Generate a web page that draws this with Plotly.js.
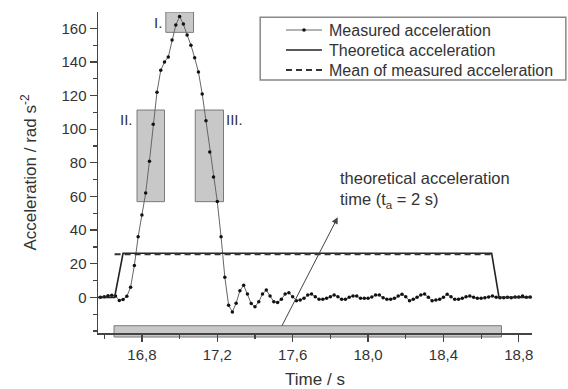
<!DOCTYPE html>
<html>
<head>
<meta charset="utf-8">
<script src="https://cdn.plot.ly/plotly-3.0.1.min.js"></script>
<style>html,body{margin:0;padding:0;background:#fff;}#chart{width:568px;height:389px;}</style>
</head>
<body>
<div id="chart"></div>
<script>
// Measured acceleration samples (time in s, acceleration in rad s^-2)
var measuredTime = [16.58,16.60,16.62,16.64,16.66,16.68,16.70,16.72,16.74,16.76,16.78,16.80,16.82,16.84,16.86,16.88,16.90,16.92,16.94,16.96,16.98,17.00,17.02,17.04,17.06,17.08,17.10,17.12,17.14,17.16,17.18,17.20,17.22,17.24,17.26,17.28,17.30,17.32,17.34,17.36,17.38,17.40,17.42,17.44,17.46,17.48,17.50,17.52,17.54,17.56,17.58,17.60,17.62,17.64,17.66,17.68,17.70,17.72,17.74,17.76,17.78,17.80,17.82,17.84,17.86,17.88,17.90,17.92,17.94,17.96,17.98,18.00,18.02,18.04,18.06,18.08,18.10,18.12,18.14,18.16,18.18,18.20,18.22,18.24,18.26,18.28,18.30,18.32,18.34,18.36,18.38,18.40,18.42,18.44,18.46,18.48,18.50,18.52,18.54,18.56,18.58,18.60,18.62,18.64,18.66,18.68,18.70,18.72,18.74,18.76,18.78,18.80,18.82,18.84,18.86];
var measuredAcc = [0,0.3,1.0,1.2,0.8,-1.8,-1.3,0.6,6,19,36,49,62,81,103,122,135,140,143,153,162,167,162.5,156,150,142.5,134,121,105,86.5,71.5,57,36,12,-4.7,-8.7,-3.5,4,7.2,2,-3.7,-5.6,-2.6,2,4.3,0.8,-2.6,-3,-1.2,2,2.8,0.4,-2,-1.6,-0.6,1.4,2,0.4,-1.2,-1.2,-0.6,0.4,1.4,0.4,-1.2,-1.2,0,0.8,0.8,-0.6,-0.6,-0.6,0.2,1.4,1.4,-0.2,-1.2,-1.2,-0.6,0.8,1.8,0.4,-2,-1.2,0,1.4,2,0,-2,-1.6,-1.2,0,1.8,0.4,-1.2,-1.2,-0.6,0.4,0.8,0,-0.6,-0.6,-0.2,0.2,0.8,0,-0.2,-0.2,0,-0.2,0.2,0.2,0.8,0,0.2];

// Theoretical acceleration (trapezoid)
var theoTime = [16.567,16.655,16.700,18.656,18.695,18.870];
var theoAcc  = [0,0,26.2,26.2,0,0];

// Mean of measured acceleration
var meanTime = [16.655,18.656];
var meanAcc  = [25.6,25.6];

// Highlighted regions and labels
var regionLabels = ["I.","II.","III."];
var regionX0 = [16.927,16.774,17.083];
var regionX1 = [17.074,16.920,17.233];
var regionY0 = [157.6,56.9,56.9];
var regionY1 = [169.7,111.4,111.4];

// Theoretical acceleration time bar
var barT0 = 16.652, barT1 = 18.708;

// Legend entries and tick values
var seriesNames = ['Measured acceleration', 'Theoretica acceleration', 'Mean of measured acceleration'];
var yTickVals = [0,20,40,60,80,100,120,140,160];

var FONT = 'Liberation Sans, Arial, sans-serif';
var TXT = '#333333';

var styles = [
  {line: {color: '#666666', width: 1}, marker: {color: '#111111', size: 3.5}, mode: 'lines+markers'},
  {line: {color: '#222222', width: 1.6}, mode: 'lines'},
  {line: {color: '#333333', width: 2, dash: '6px,4px'}, mode: 'lines'}
];

var traces = [
  {x: measuredTime, y: measuredAcc, mode: styles[0].mode, name: seriesNames[0], line: styles[0].line, marker: styles[0].marker},
  {x: theoTime, y: theoAcc, mode: styles[1].mode, name: seriesNames[1], line: styles[1].line},
  {x: meanTime, y: meanAcc, mode: styles[2].mode, name: seriesNames[2], line: styles[2].line}
];

var shapes = [];
for (var i = 0; i < regionLabels.length; i++) {
  shapes.push({type: 'rect', xref: 'x', yref: 'y', x0: regionX0[i], x1: regionX1[i], y0: regionY0[i], y1: regionY1[i],
    fillcolor: '#c8c8c8', line: {color: '#7a7a7a', width: 1}, layer: 'below'});
}
shapes.push({type: 'rect', xref: 'x', yref: 'paper', x0: barT0, x1: barT1, y0: -0.0125, y1: 0.0227,
  fillcolor: '#c8c8c8', line: {color: '#7a7a7a', width: 1}, layer: 'below'});

// custom legend (frame, symbols, labels) in paper coordinates
shapes.push({type: 'rect', xref: 'paper', yref: 'paper', x0: 0.3737, x1: 1.078, y0: 0.788, y1: 0.984,
  fillcolor: '#ffffff', line: {color: '#888888', width: 1.5}, layer: 'above'});
var legRowY = [0.9439, 0.8816, 0.8193];
var annotations = [];
for (var k = 0; k < seriesNames.length; k++) {
  shapes.push({type: 'line', xref: 'paper', yref: 'paper', x0: 0.4332, x1: 0.5161, y0: legRowY[k], y1: legRowY[k],
    line: styles[k].line, layer: 'above'});
  annotations.push({xref: 'paper', yref: 'paper', x: 0.5276, y: legRowY[k], text: seriesNames[k], showarrow: false,
    xanchor: 'left', yanchor: 'middle', font: {family: FONT, size: 16, color: TXT}});
}
shapes.push({type: 'circle', xref: 'paper', yref: 'paper', xsizemode: 'pixel', ysizemode: 'pixel',
  xanchor: 0.4747, yanchor: legRowY[0], x0: -1.8, x1: 1.8, y0: -1.8, y1: 1.8,
  fillcolor: '#111111', line: {width: 0}, layer: 'above'});

annotations.push(
  {x: regionX0[0] - 0.012, y: 163.2, xref: 'x', yref: 'y', text: regionLabels[0], showarrow: false, xanchor: 'right', yanchor: 'middle', font: {family: FONT, size: 15, color: TXT}},
  {x: regionX0[1] - 0.012, y: 105.5, xref: 'x', yref: 'y', text: regionLabels[1], showarrow: false, xanchor: 'right', yanchor: 'middle', font: {family: FONT, size: 15, color: TXT}},
  {x: regionX1[2] + 0.004, y: 105.5, xref: 'x', yref: 'y', text: regionLabels[2], showarrow: false, xanchor: 'left', yanchor: 'middle', font: {family: FONT, size: 15, color: TXT}},
  {x: 17.839, y: 63.8, xref: 'x', yref: 'y', text: 'theoretical acceleration<br>time (t<sub>a</sub> = 2 s)', showarrow: false, xanchor: 'left', yanchor: 'middle', align: 'left', font: {family: FONT, size: 16.5, color: TXT}},
  {x: 17.839, y: 47.6, ax: 17.539, ay: -17.8, xref: 'x', yref: 'y', axref: 'x', ayref: 'y', text: '', showarrow: true, arrowhead: 2, arrowsize: 1.3, arrowwidth: 1, arrowcolor: '#444444'}
);

var layout = {
  width: 568, height: 389,
  margin: {l: 98, r: 36, t: 12, b: 56},
  paper_bgcolor: '#ffffff', plot_bgcolor: '#ffffff',
  separators: ',.',
  font: {family: FONT, color: TXT},
  showlegend: false,
  xaxis: {range: [16.567, 18.870], tick0: 16.8, dtick: 0.4, tickformat: '.1f', ticks: 'outside', ticklen: 7, tickwidth: 1.3,
    tickcolor: '#444', showline: true, linecolor: '#444', linewidth: 1.5, showgrid: false, zeroline: false,
    tickfont: {family: FONT, size: 15, color: TXT},
    minor: {dtick: 0.2, tick0: 16.8, ticks: 'outside', ticklen: 4, tickcolor: '#444', tickwidth: 1.2, showgrid: false},
    title: {text: 'Time / s', font: {family: FONT, size: 17, color: TXT}, standoff: 12}},
  yaxis: {range: [-21.2, 169.7], tickmode: 'array', tickvals: yTickVals, ticks: 'outside', ticklen: 7, tickwidth: 1.3,
    tickcolor: '#444', showline: true, linecolor: '#444', linewidth: 1.5, showgrid: false, zeroline: false,
    tickfont: {family: FONT, size: 15, color: TXT},
    minor: {tickmode: 'linear', dtick: 10, tick0: 0, ticks: 'outside', ticklen: 4, tickcolor: '#444', tickwidth: 1.2, showgrid: false},
    title: {text: 'Acceleration / rad s<sup>-2</sup>', font: {family: FONT, size: 17, color: TXT}, standoff: 20}},
  shapes: shapes,
  annotations: annotations
};

Plotly.newPlot('chart', traces, layout, {displayModeBar: false, staticPlot: true});
</script>
</body>
</html>
